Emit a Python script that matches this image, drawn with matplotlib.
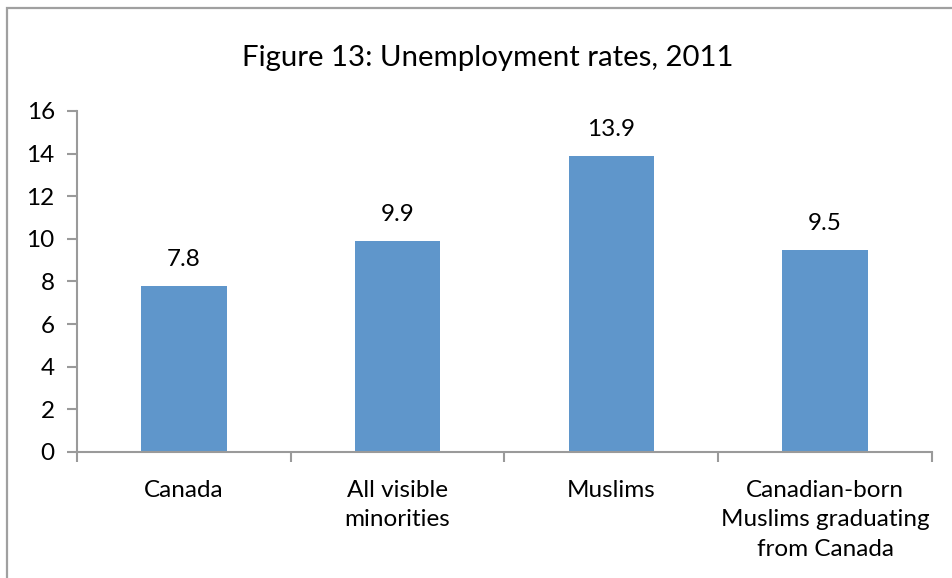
import numpy as np
import matplotlib.pyplot as plt
from matplotlib.patches import Rectangle

# Unemployment rates, 2011
categories = ["Canada", "All visible\nminorities", "Muslims",
              "Canadian-born\nMuslims graduating\nfrom Canada"]
rates = [7.8, 9.9, 13.9, 9.5]
yticks = [0, 2, 4, 6, 8, 10, 12, 14, 16]

plt.rcParams['font.family'] = ['Lato', 'DejaVu Sans']

fig = plt.figure(figsize=(9.52, 5.78), dpi=100)
ax = fig.add_axes([0.0809, 0.218, 0.898, 0.590])

grey = '#9a9a9a'
x = np.arange(len(categories))
ax.bar(x, rates, width=0.4, color='#5f96cb')

for xi, v in zip(x, rates):
    ax.annotate(f"{v}", (xi, v), xytext=(0, 19), textcoords='offset points',
                ha='center', va='center', fontsize=17.5)

ax.set_xlim(-0.5, len(categories) - 0.5)
ax.set_ylim(0, 16)
ax.set_yticks(yticks)
ax.set_xticks(x)
ax.set_xticklabels(categories, fontsize=17.5, linespacing=1.5)
ax.set_xticks(np.arange(len(categories) + 1) - 0.5, minor=True)
ax.tick_params(axis='x', which='major', length=0, pad=20)
ax.tick_params(axis='x', which='minor', length=7, color=grey, width=1.5)
ax.tick_params(axis='y', length=7, color=grey, width=1.5, labelsize=17.5, pad=9)

for side in ['top', 'right']:
    ax.spines[side].set_visible(False)
for side in ['left', 'bottom']:
    ax.spines[side].set_color(grey)
    ax.spines[side].set_linewidth(1.5)

fig.text(0.512, 0.900, "Figure 13: Unemployment rates, 2011",
         ha='center', va='center', fontsize=21.2)

# chart frame, cut off at the right and bottom edges
fig.patches.append(Rectangle((7 / 952, -0.1), 1.2, 1.1 - 8 / 578,
                             transform=fig.transFigure, fill=False,
                             edgecolor='#a0a0a0', linewidth=1.6))

fig.savefig("out.png", dpi=100)
